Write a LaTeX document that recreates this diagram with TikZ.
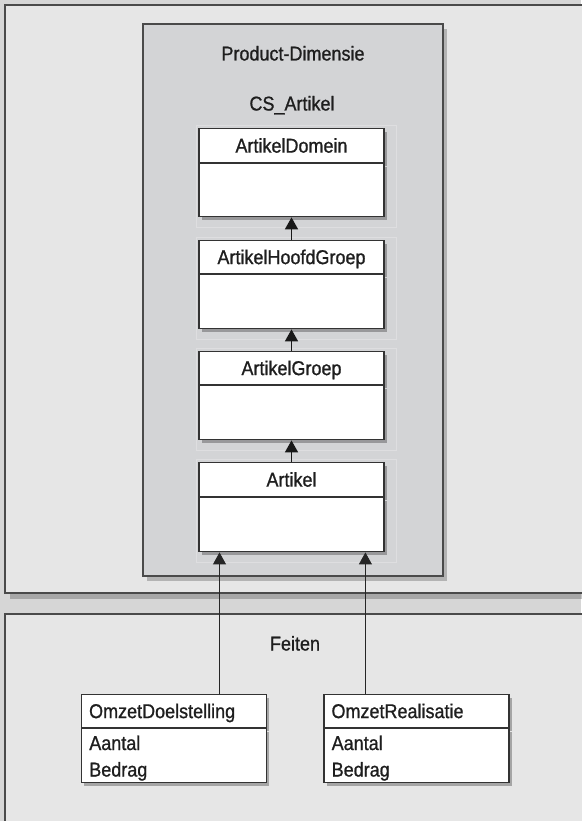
\documentclass[tikz,border=0pt]{standalone}
\usepackage{fontspec}
\setmainfont{Liberation Sans}[FakeStretch=0.9,FakeBold=0.9]
\usetikzlibrary{arrows.meta,shadows,calc}
\definecolor{pagebg}{HTML}{D6D6D6}
\definecolor{panelfill}{HTML}{E6E6E6}
\definecolor{dimfill}{HTML}{D3D4D6}
\definecolor{edgecol}{HTML}{333333}
\definecolor{paneledge}{HTML}{4A4A4A}
\definecolor{txt}{HTML}{1E1E1E}
\tikzset{
  shad/.style={drop shadow={shadow xshift=2.5pt,shadow yshift=-3pt,opacity=0.28,fill=black}},
  bigshad/.style={drop shadow={shadow xshift=5pt,shadow yshift=-6pt,opacity=0.22,fill=black}},
  panel/.style={fill=panelfill,draw=paneledge,line width=1.6pt,bigshad},
  dimbox/.style={fill=dimfill,draw=paneledge,line width=1.5pt,drop shadow={shadow xshift=4pt,shadow yshift=-5pt,opacity=0.22,fill=black}},
  title/.style={text=txt,inner sep=0pt,text height=14pt,text depth=0pt},
  hdr/.style={draw=edgecol,fill=white,line width=1.2pt,minimum width=185pt,
    inner sep=0pt,text height=14pt,text depth=0pt,anchor=north,text=txt,shad},
  hdrleft/.style={hdr,text width=170pt,align=left},
  bodybox/.style={draw=edgecol,fill=white,line width=1.2pt,minimum width=185pt,
    inner sep=0pt,anchor=north,shad},
  attr/.style={anchor=base west,inner sep=0pt,text=txt},
  halo/.style={draw=white,opacity=0.25,line width=0.8pt},
  arr/.style={draw=black!90,line width=1.6pt,-{Triangle[width=13pt,length=12pt]}},
  arrthin/.style={draw=black!85,line width=0.9pt,-{Triangle[width=13pt,length=12pt]}},
}
\begin{document}
\begin{tikzpicture}[x=1pt,y=-1pt,font=\fontsize{20}{24}\selectfont]
\useasboundingbox (0,0) rectangle (581,821);
\fill[pagebg] (0,0) rectangle (581,821);

% panels
\draw[panel] (5,5) rectangle (640,593);
\draw[panel] (5,614) rectangle (640,860);

% product dimension box
\draw[dimbox] (143,24) rectangle (443,576);
\node[title] (pd) at (293,53.5) {Product-Dimensie};
\node[title] (cs) at (292,103.5) {CS\_Artikel};

% class boxes
\node[hdr,minimum height=34pt] (ad) at (291.5,128) {ArtikelDomein};
\node[bodybox,minimum height=53pt] (adb) at (ad.south) {};
\node[hdr,minimum height=33pt] (ahg) at (291.5,240) {ArtikelHoofdGroep};
\node[bodybox,minimum height=54pt] (ahgb) at (ahg.south) {};
\node[hdr,minimum height=33pt] (ag) at (291.5,351) {ArtikelGroep};
\node[bodybox,minimum height=54pt] (agb) at (ag.south) {};
\node[hdr,minimum height=34pt] (ar) at (291.5,462) {Artikel};
\node[bodybox,minimum height=54pt] (arb) at (ar.south) {};

% faint halos
\foreach \h/\b in {ad/adb,ahg/ahgb,ag/agb,ar/arb}{
  \draw[halo] ($(\h.north west)+(-2,-3)$) rectangle ($(\b.south east)+(12,10)$);
}

% arrows inside
\draw[arr] (ahg.north) -- (adb.south);
\draw[arr] (ag.north) -- (ahgb.south);
\draw[arr] (ar.north) -- (agb.south);

% facts
\node[title] (feiten) at (295,643.5) {Feiten};
\node[hdrleft,minimum height=33pt] (od) at (174.1,694) {OmzetDoelstelling};
\node[bodybox,minimum height=54pt] (odb) at (od.south) {};
\node[attr] (oda) at (89.1,750) {Aantal};
\node[attr] (odbd) at (89.1,776.5) {Bedrag};
\node[hdrleft,minimum height=33pt] (or) at (416.5,694) {OmzetRealisatie};
\node[bodybox,minimum height=54pt] (orb) at (or.south) {};
\node[attr] (ora) at (331.5,750) {Aantal};
\node[attr] (orbd) at (331.5,776.5) {Bedrag};

% long connectors
\coordinate (odtop) at ($(od.north west)+(138.5,0)$);
\coordinate (ortop) at ($(or.north west)+(42,0)$);
\draw[arrthin] (odtop) -- (odtop |- arb.south);
\draw[arrthin] (ortop) -- (ortop |- arb.south);
\end{tikzpicture}
\end{document}
